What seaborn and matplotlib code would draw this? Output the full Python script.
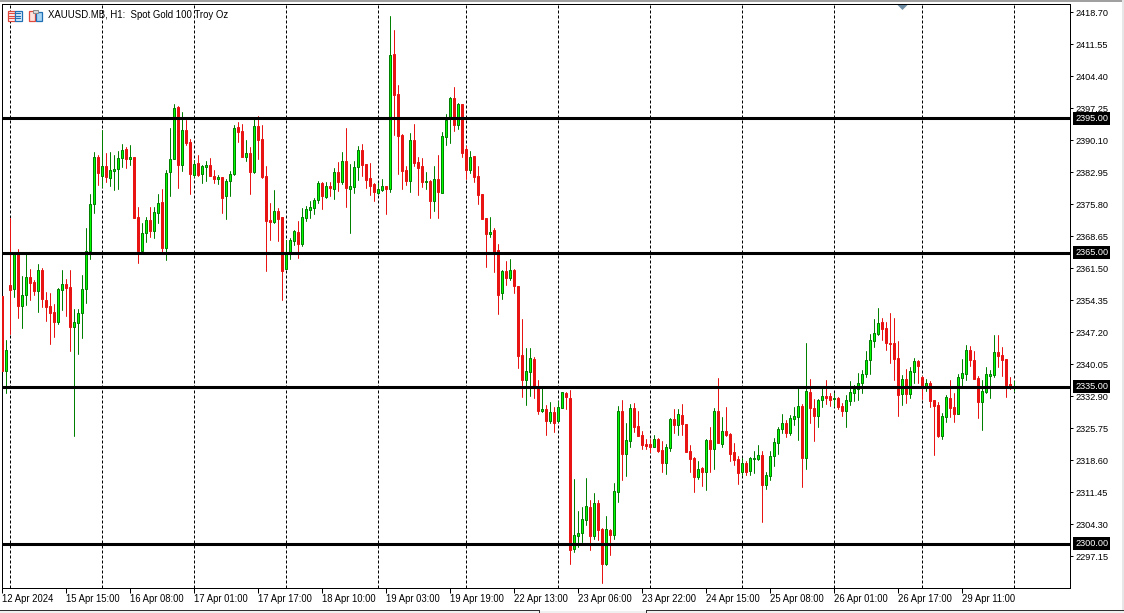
import matplotlib
matplotlib.use("Agg")
import matplotlib.pyplot as plt
from matplotlib.patches import Rectangle, Polygon
import numpy as np
import pandas as pd
import seaborn as sns

# Hourly XAUUSD candles
opens = [
    2355.3, 2338.6, 2357.8, 2356.9, 2364.7, 2353.1, 2355.5, 2359.6, 2358.4, 2356.4,
    2361.1, 2354.4, 2353.1, 2351.7, 2349.5, 2356.6, 2358.0, 2357.3, 2348.4, 2349.3,
    2351.5, 2356.9, 2365.4, 2375.9, 2386.4, 2382.1, 2384.4, 2381.7, 2383.2, 2383.7,
    2386.1, 2388.2, 2385.9, 2386.4, 2373.0, 2365.4, 2369.4, 2372.3, 2369.8, 2373.9,
    2376.3, 2366.0, 2383.0, 2385.9, 2397.5, 2384.6, 2392.4, 2389.7, 2382.4, 2385.0,
    2382.6, 2384.1, 2384.6, 2382.1, 2381.5, 2381.9, 2377.7, 2381.0, 2382.6, 2393.1,
    2392.2, 2386.4, 2387.3, 2383.0, 2393.3, 2390.4, 2382.1, 2372.3, 2371.8, 2374.3,
    2373.0, 2361.3, 2365.1, 2367.6, 2369.6, 2366.9, 2372.7, 2374.5, 2375.0, 2376.8,
    2380.6, 2377.4, 2379.9, 2379.2, 2383.0, 2380.8, 2385.5, 2379.2, 2379.7, 2384.1,
    2387.9, 2384.8, 2381.7, 2380.3, 2378.3, 2379.0, 2379.9, 2379.2, 2409.4, 2400.4,
    2391.3, 2383.5, 2381.0, 2390.2, 2385.3, 2384.4, 2380.8, 2381.0, 2376.5, 2381.5,
    2378.3, 2390.8, 2395.1, 2399.6, 2393.5, 2398.2, 2388.2, 2383.5, 2386.6, 2382.1,
    2378.1, 2372.7, 2369.2, 2370.1, 2365.6, 2356.0, 2360.9, 2359.4, 2361.1, 2357.5,
    2342.1, 2336.6, 2338.3, 2341.2, 2334.8, 2329.6, 2330.1, 2327.4, 2329.4, 2327.4,
    2330.3, 2333.6, 2332.5, 2298.8, 2301.7, 2302.4, 2305.2, 2308.2, 2301.7, 2309.1,
    2303.2, 2295.4, 2303.0, 2301.9, 2311.5, 2329.6, 2320.0, 2322.9, 2330.3, 2326.3,
    2324.3, 2322.2, 2322.2, 2321.6, 2323.4, 2320.9, 2318.0, 2321.4, 2327.8, 2326.5,
    2328.7, 2326.7, 2320.7, 2319.1, 2314.9, 2316.9, 2316.0, 2323.1, 2321.1, 2329.6,
    2322.2, 2325.1, 2324.5, 2320.5, 2318.9, 2316.0, 2318.0, 2316.2, 2318.9, 2318.9,
    2319.8, 2313.1, 2315.1, 2319.6, 2322.5, 2325.6, 2326.9, 2324.7, 2327.8, 2328.3,
    2330.7, 2319.1, 2333.9, 2330.3, 2328.5, 2332.1, 2333.0, 2333.0, 2332.3, 2332.5,
    2330.7, 2329.6, 2331.9, 2333.6, 2334.5, 2335.9, 2337.9, 2341.0, 2345.3, 2346.8,
    2349.5, 2348.2, 2344.8, 2344.8, 2341.5, 2333.4, 2336.8, 2333.4, 2338.3, 2340.8,
    2337.2, 2334.8, 2335.9, 2332.1, 2331.0, 2324.0, 2328.3, 2332.5, 2330.5, 2328.9,
    2337.0, 2337.9, 2343.2, 2341.0, 2337.0, 2331.6, 2333.9, 2337.4, 2337.7, 2342.8,
    2342.1, 2341.2, 2335.6, 2335.0,
]
highs = [
    2355.3, 2345.5, 2372.7, 2365.1, 2365.8, 2359.8, 2364.7, 2361.3, 2358.9, 2362.5,
    2361.6, 2356.2, 2356.0, 2353.5, 2357.1, 2361.1, 2359.1, 2361.1, 2352.4, 2352.4,
    2360.0, 2370.5, 2378.1, 2387.5, 2386.8, 2392.4, 2387.3, 2387.5, 2386.8, 2387.7,
    2389.3, 2388.6, 2389.0, 2386.4, 2375.2, 2371.6, 2373.0, 2375.2, 2375.2, 2378.1,
    2379.2, 2383.5, 2392.9, 2398.2, 2397.8, 2396.4, 2394.6, 2390.4, 2385.7, 2386.8,
    2384.6, 2385.5, 2386.1, 2383.5, 2382.4, 2381.9, 2381.5, 2383.2, 2393.5, 2394.2,
    2393.7, 2390.2, 2388.6, 2395.3, 2395.5, 2393.5, 2384.4, 2376.1, 2379.0, 2375.0,
    2373.0, 2367.8, 2368.3, 2370.1, 2372.1, 2375.0, 2375.4, 2376.5, 2377.2, 2381.0,
    2380.8, 2380.8, 2380.8, 2383.9, 2385.3, 2387.5, 2392.9, 2384.8, 2385.5, 2388.8,
    2389.3, 2384.8, 2385.0, 2380.6, 2380.6, 2381.5, 2379.9, 2417.9, 2414.7, 2402.5,
    2391.5, 2384.4, 2391.7, 2393.7, 2386.4, 2386.1, 2383.0, 2381.2, 2384.4, 2386.8,
    2391.9, 2396.0, 2399.8, 2402.0, 2398.4, 2398.2, 2388.8, 2387.7, 2386.6, 2384.4,
    2378.1, 2372.7, 2373.0, 2370.5, 2366.9, 2361.1, 2363.1, 2363.6, 2361.3, 2357.5,
    2350.2, 2343.7, 2343.7, 2341.7, 2336.6, 2334.8, 2331.0, 2331.6, 2330.5, 2331.8,
    2333.9, 2333.9, 2334.3, 2314.4, 2307.3, 2308.2, 2314.6, 2309.7, 2311.3, 2309.7,
    2303.5, 2306.1, 2303.2, 2313.5, 2330.7, 2332.1, 2326.9, 2331.2, 2331.4, 2329.6,
    2325.1, 2323.4, 2323.4, 2324.3, 2323.6, 2322.9, 2322.2, 2328.0, 2330.1, 2330.1,
    2331.2, 2326.7, 2322.0, 2319.3, 2318.4, 2317.1, 2323.4, 2326.0, 2330.3, 2337.0,
    2328.3, 2330.5, 2324.7, 2322.4, 2319.6, 2319.1, 2318.4, 2319.3, 2320.7, 2322.0,
    2320.7, 2316.0, 2320.7, 2323.6, 2326.0, 2328.9, 2327.6, 2328.7, 2330.5, 2334.8,
    2331.2, 2344.8, 2336.8, 2332.3, 2332.3, 2335.0, 2336.6, 2333.6, 2333.6, 2332.7,
    2331.4, 2333.2, 2336.3, 2335.4, 2338.1, 2338.8, 2343.0, 2346.8, 2350.2, 2352.6,
    2350.4, 2349.5, 2351.5, 2350.4, 2345.3, 2337.7, 2339.0, 2339.4, 2341.5, 2341.0,
    2337.4, 2336.8, 2336.3, 2332.1, 2331.6, 2329.2, 2333.2, 2336.6, 2333.6, 2337.9,
    2341.2, 2344.4, 2344.1, 2343.0, 2337.4, 2336.6, 2339.4, 2338.8, 2346.6, 2346.6,
    2343.9, 2341.2, 2337.2, 2336.3,
]
lows = [
    2338.6, 2333.6, 2346.8, 2355.1, 2350.4, 2348.2, 2353.3, 2354.4, 2355.5, 2351.7,
    2352.9, 2349.7, 2344.6, 2346.1, 2349.0, 2352.2, 2350.8, 2343.0, 2324.0, 2342.4,
    2345.9, 2353.7, 2363.6, 2373.9, 2380.1, 2379.7, 2380.8, 2379.9, 2379.0, 2379.2,
    2384.1, 2383.9, 2384.6, 2372.7, 2362.7, 2364.9, 2367.4, 2368.5, 2368.3, 2371.6,
    2365.1, 2363.4, 2377.7, 2385.9, 2379.4, 2383.2, 2389.0, 2378.1, 2381.9, 2382.1,
    2380.6, 2381.0, 2382.1, 2380.6, 2380.3, 2373.9, 2372.5, 2377.7, 2382.4, 2389.7,
    2386.4, 2385.5, 2378.1, 2382.8, 2385.9, 2381.7, 2360.9, 2367.8, 2371.6, 2367.6,
    2354.4, 2361.3, 2363.6, 2366.7, 2363.8, 2366.5, 2372.1, 2372.7, 2373.6, 2376.1,
    2374.8, 2377.2, 2377.7, 2377.0, 2378.8, 2380.3, 2375.2, 2369.4, 2378.3, 2381.2,
    2382.1, 2379.4, 2377.9, 2376.5, 2378.1, 2378.8, 2373.6, 2378.5, 2391.3, 2382.6,
    2379.2, 2380.1, 2378.5, 2384.4, 2377.9, 2379.7, 2379.2, 2372.7, 2374.3, 2372.7,
    2378.3, 2389.0, 2389.5, 2392.2, 2392.6, 2386.4, 2381.5, 2382.8, 2380.8, 2375.9,
    2372.5, 2361.8, 2368.5, 2360.7, 2351.3, 2354.6, 2357.8, 2358.9, 2356.0, 2339.2,
    2332.7, 2331.0, 2333.0, 2332.5, 2328.9, 2329.4, 2324.3, 2326.9, 2324.9, 2327.2,
    2330.3, 2330.1, 2295.4, 2298.1, 2299.2, 2300.4, 2304.1, 2298.6, 2301.0, 2300.8,
    2291.2, 2295.2, 2297.4, 2301.0, 2309.3, 2314.2, 2315.1, 2321.6, 2324.9, 2324.0,
    2321.1, 2321.1, 2320.5, 2321.6, 2320.5, 2316.0, 2315.5, 2320.7, 2324.7, 2324.3,
    2324.3, 2320.5, 2316.0, 2311.5, 2314.4, 2312.8, 2312.0, 2316.0, 2316.7, 2322.4,
    2321.6, 2324.0, 2318.4, 2317.5, 2313.3, 2315.3, 2315.3, 2315.3, 2315.8, 2318.7,
    2304.8, 2312.2, 2314.2, 2317.3, 2320.0, 2324.7, 2323.8, 2324.3, 2326.5, 2323.1,
    2312.6, 2316.7, 2326.9, 2322.9, 2326.0, 2330.5, 2331.2, 2330.7, 2330.7, 2330.1,
    2328.5, 2326.0, 2331.0, 2331.9, 2332.1, 2333.6, 2337.2, 2337.9, 2343.9, 2346.6,
    2345.5, 2343.2, 2340.3, 2336.6, 2328.5, 2331.0, 2331.4, 2332.5, 2335.9, 2335.9,
    2332.3, 2334.1, 2330.5, 2319.8, 2323.8, 2323.4, 2327.2, 2328.3, 2327.2, 2328.9,
    2335.0, 2336.6, 2339.7, 2336.8, 2328.1, 2325.4, 2333.6, 2332.5, 2337.2, 2339.4,
    2337.4, 2332.7, 2334.5, 2334.1,
]
closes = [
    2338.6, 2343.2, 2356.6, 2364.7, 2353.1, 2355.5, 2359.6, 2358.2, 2356.4, 2361.1,
    2354.6, 2352.9, 2351.5, 2349.5, 2356.9, 2358.0, 2357.1, 2348.4, 2349.5, 2351.5,
    2356.9, 2365.4, 2375.9, 2386.4, 2382.8, 2384.4, 2381.9, 2383.5, 2383.7, 2386.1,
    2387.9, 2385.9, 2386.4, 2372.7, 2365.4, 2369.4, 2372.3, 2369.8, 2374.1, 2376.1,
    2366.0, 2382.8, 2385.9, 2397.3, 2384.6, 2392.4, 2389.5, 2382.6, 2384.8, 2382.4,
    2384.4, 2384.6, 2382.1, 2381.5, 2381.9, 2377.2, 2381.0, 2382.6, 2392.9, 2392.0,
    2386.4, 2387.3, 2383.0, 2393.3, 2390.2, 2381.9, 2372.1, 2371.8, 2374.3, 2372.5,
    2360.9, 2365.1, 2367.8, 2369.8, 2366.9, 2373.0, 2374.8, 2375.2, 2376.8, 2380.6,
    2377.7, 2379.9, 2379.5, 2383.0, 2380.8, 2385.5, 2379.5, 2379.9, 2384.1, 2387.9,
    2384.6, 2381.2, 2379.9, 2378.5, 2379.2, 2379.9, 2379.2, 2409.2, 2400.2, 2391.1,
    2383.2, 2381.0, 2390.2, 2385.0, 2383.9, 2380.8, 2381.0, 2376.5, 2381.5, 2378.5,
    2391.1, 2394.6, 2399.6, 2393.5, 2398.2, 2387.3, 2383.5, 2386.4, 2381.9, 2377.9,
    2372.5, 2369.2, 2369.6, 2364.9, 2355.5, 2360.9, 2359.4, 2361.1, 2357.5, 2341.9,
    2336.6, 2338.6, 2341.5, 2335.0, 2329.6, 2330.1, 2327.4, 2329.4, 2326.9, 2330.5,
    2333.9, 2332.7, 2298.6, 2302.0, 2302.4, 2305.5, 2308.4, 2301.7, 2309.1, 2303.0,
    2295.4, 2303.2, 2301.9, 2311.7, 2329.6, 2320.0, 2323.1, 2330.3, 2326.0, 2324.0,
    2322.0, 2321.8, 2321.6, 2323.4, 2320.7, 2318.0, 2321.6, 2327.8, 2326.5, 2328.9,
    2326.7, 2320.5, 2318.9, 2314.9, 2316.7, 2316.0, 2323.1, 2321.1, 2329.6, 2322.4,
    2325.1, 2324.3, 2320.0, 2318.7, 2315.8, 2318.0, 2316.0, 2319.1, 2319.1, 2319.8,
    2313.1, 2315.3, 2319.6, 2322.7, 2325.6, 2326.9, 2324.7, 2328.1, 2328.5, 2330.7,
    2319.1, 2334.1, 2330.3, 2328.5, 2332.1, 2333.0, 2332.5, 2332.1, 2332.5, 2330.5,
    2329.6, 2332.1, 2333.9, 2334.5, 2335.9, 2337.9, 2341.0, 2345.5, 2347.0, 2349.3,
    2347.9, 2344.8, 2344.6, 2341.2, 2333.2, 2336.8, 2333.4, 2338.6, 2340.8, 2339.7,
    2334.8, 2335.9, 2331.9, 2330.7, 2324.0, 2328.5, 2332.7, 2330.3, 2328.9, 2337.2,
    2338.1, 2343.2, 2341.0, 2336.8, 2331.6, 2334.1, 2337.9, 2337.9, 2342.8, 2341.9,
    2341.0, 2335.4, 2335.0, 2335.1,
]

price_ticks = [2418.70, 2411.55, 2404.40, 2397.25, 2390.10, 2382.95, 2375.80, 2368.65, 2361.50,
               2354.35, 2347.20, 2340.05, 2332.90, 2325.75, 2318.60, 2311.45, 2304.30, 2297.15]
level_lines = [2395.00, 2365.00, 2335.00, 2300.00]
date_ticks = [0, 16, 32, 48, 64, 80, 96, 112, 128, 144, 160, 176, 192, 208, 224, 240]
date_labels = ["12 Apr 2024", "15 Apr 15:00", "16 Apr 08:00", "17 Apr 01:00",
               "17 Apr 17:00", "18 Apr 10:00", "19 Apr 03:00", "19 Apr 19:00",
               "22 Apr 13:00", "23 Apr 06:00", "23 Apr 22:00", "24 Apr 15:00",
               "25 Apr 08:00", "26 Apr 01:00", "26 Apr 17:00", "29 Apr 11:00"]
separator_bars = [2, 25, 48, 71, 94, 116, 139, 162, 185, 208, 230, 253]

GREEN_EDGE = "#007f00"
GREEN_FILL = "#00ff00"
RED = "#e81414"

sns.set_theme(style="ticks", rc={"axes.linewidth": 0.72, "axes.edgecolor": "black"})
plt.rcParams["font.family"] = ["Liberation Sans", "DejaVu Sans"]

df = pd.DataFrame({"bar": np.arange(len(opens)), "open": opens, "high": highs,
                   "low": lows, "close": closes})
df["up"] = df["close"] >= df["open"]

W, H = 1124, 613
fig = plt.figure(figsize=(W / 100, H / 100), dpi=100, facecolor="white")
ax = fig.add_axes([2.0 / W, (H - 588.0) / H, 1068 / W, 584 / H])

# Period separators sit behind the candles
for bar in separator_bars:
    ax.axvline(bar, color="black", lw=0.72, ls=(0, (3, 2)), zorder=1)

# Wicks: one short line per bar
wicks = df.melt(id_vars=["bar", "up"], value_vars=["low", "high"], value_name="price")
sns.lineplot(data=wicks, x="bar", y="price", units="bar", estimator=None, hue="up",
             palette={True: GREEN_EDGE, False: RED}, lw=0.72, legend=False, ax=ax, zorder=2)

# Bodies
up = df[df["up"]]
down = df[~df["up"]]
ax.bar(up["bar"], up["close"] - up["open"], bottom=up["open"], width=0.5,
       facecolor=GREEN_FILL, edgecolor=GREEN_EDGE, linewidth=0.72, zorder=3)
ax.bar(down["bar"], down["open"] - down["close"], bottom=down["close"], width=0.5,
       facecolor=RED, edgecolor=RED, linewidth=0.72, zorder=3)

# Horizontal levels and their price tags
for level in level_lines:
    ax.axhline(level, color="black", lw=2.2, zorder=4)
    ax.text(1.0047, level, f"{level:.2f}", transform=ax.get_yaxis_transform(), color="white",
            fontsize=6.6, va="center", ha="left", clip_on=False, zorder=6,
            bbox=dict(boxstyle="square,pad=0.22", fc="black", ec="none"))

ax.set_xlim(0, 267)
ax.set_ylim(2290.07, 2420.56)
ax.set_xlabel("")
ax.set_ylabel("")
ax.yaxis.tick_right()
ax.set_yticks(price_ticks)
ax.set_yticklabels([f"{p:.2f}" for p in price_ticks], fontsize=6.6)
ax.set_xticks(date_ticks)
ax.set_xticklabels(date_labels, fontsize=6.85, ha="left")
ax.tick_params(axis="y", length=2.4, width=0.72, pad=1.2, color="black", labelcolor="black")
ax.tick_params(axis="x", length=3.6, width=0.72, pad=1.0, color="black", labelcolor="black")
for spine in ax.spines.values():
    spine.set_visible(True)

ax.text(48.5 / W, 1 - 15.5 / H, "XAUUSD.MB, H1:  Spot Gold 100 Troy Oz", transform=fig.transFigure,
        fontsize=6.9, va="center", ha="left", color="black", zorder=7)

# Window furniture: top strip, tab bar, small toolbar icons, scroll marker
deco = fig.add_axes([0, 0, 1, 1], facecolor="none")
deco.set_xlim(0, W)
deco.set_ylim(H, 0)
deco.axis("off")
deco.add_patch(Rectangle((0, 0), W, 2, fc="#a0a0a0", ec="none"))
deco.add_patch(Rectangle((1122, 0), 2, H, fc="#e6e6e6", ec="none"))
deco.add_patch(Rectangle((0, 611), W, 2, fc="#f0f0f0", ec="none"))
deco.add_patch(Rectangle((0, 610), 540, 1, fc="#303030", ec="none"))
deco.add_patch(Rectangle((646, 610), W - 646, 1, fc="#303030", ec="none"))
deco.add_patch(Rectangle((539, 610), 1, 3, fc="#303030", ec="none"))
deco.add_patch(Rectangle((646, 610), 1, 3, fc="#303030", ec="none"))
deco.add_patch(Rectangle((7.5, 10.5), 7, 10.5, fc="white", ec="#e0483c", lw=0.9))
deco.add_patch(Rectangle((14.5, 10.5), 7, 10.5, fc="#e4f2fc", ec="#1f6fb5", lw=0.9))
for row in (13, 15.5, 18):
    deco.plot([9, 14], [row, row], color="#e0483c", lw=0.9)
    deco.plot([16, 20], [row, row], color="#1f6fb5", lw=0.9)
deco.add_patch(Rectangle((28.5, 10.5), 6.5, 10.5, fc="#fde3de", ec="#e0483c", lw=0.9))
deco.add_patch(Rectangle((35.5, 11.5), 6.5, 9.5, fc="#a9d6f5", ec="#1f6fb5", lw=0.9))
deco.add_patch(Rectangle((33, 10), 5, 3, fc="#d8d8d8", ec="#8a8a8a", lw=0.7))
deco.add_patch(Polygon([(902.5, 10), (897.5, 5), (907.5, 5)], fc="#6f8ea5", ec="none"))

fig.savefig("out.png", dpi=100)
